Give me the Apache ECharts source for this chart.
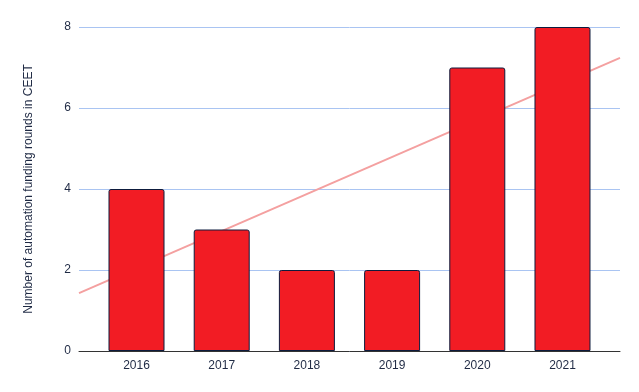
<!DOCTYPE html>
<html><head><meta charset="utf-8">
<script src="https://cdn.jsdelivr.net/npm/echarts@6/dist/echarts.min.js"></script>
<style>html,body{margin:0;padding:0;background:#fff}#c{width:639px;height:392px}</style>
</head><body><div id="c"></div>
<script>
const categories = ['2016','2017','2018','2019','2020','2021'];
const rounds = [4, 3, 2, 2, 7, 8];
const yTicks = [0, 2, 4, 6, 8];

// least-squares trendline from the bar values
const n = rounds.length;
const mx = (n - 1) / 2;
const my = rounds.reduce((a, b) => a + b, 0) / n;
let sxy = 0, sxx = 0;
rounds.forEach((v, i) => { sxy += (i - mx) * (v - my); sxx += (i - mx) * (i - mx); });
const slope = sxy / sxx, icpt = my - slope * mx;
const xMin = -0.675, xMax = n - 1 + 0.675;

const chart = echarts.init(document.getElementById('c'));
chart.setOption({
  animation: false,
  textStyle: { fontFamily: 'Liberation Sans, Arial, sans-serif' },
  grid: { left: 79, right: 19, top: 27, bottom: 41 },
  xAxis: {
    type: 'value', min: xMin, max: xMax,
    splitLine: { show: false },
    axisLine: { show: true, onZero: false, lineStyle: { color: '#333', width: 1 } },
    axisTick: { show: false },
    axisLabel: {
      customValues: categories.map((c, i) => i),
      formatter: v => categories[Math.round(v)],
      color: '#1f2a44', fontSize: 12, margin: 9
    }
  },
  yAxis: {
    type: 'value', min: yTicks[0], max: yTicks[yTicks.length - 1], interval: 2,
    name: 'Number of automation funding rounds in CEET',
    nameLocation: 'middle', nameGap: 44,
    nameTextStyle: { color: '#1f2a44', fontSize: 12 },
    axisLine: { show: false }, axisTick: { show: false },
    axisLabel: { color: '#1f2a44', fontSize: 12, margin: 8 },
    splitLine: { lineStyle: { color: '#a9c4f2', width: 1 } }
  },
  series: [
    {
      type: 'line', symbol: 'none',
      data: [[xMin, icpt + slope * xMin], [xMax, icpt + slope * xMax]],
      lineStyle: { color: '#f4a0a0', width: 2 },
      z: 1
    },
    {
      type: 'bar', barWidth: 56,
      data: rounds.map((v, i) => [i, v]),
      itemStyle: { color: '#f21c24', borderColor: '#0d1b3d', borderWidth: 1, borderRadius: [2, 2, 0, 0] },
      z: 3
    }
  ]
});
</script></body></html>
